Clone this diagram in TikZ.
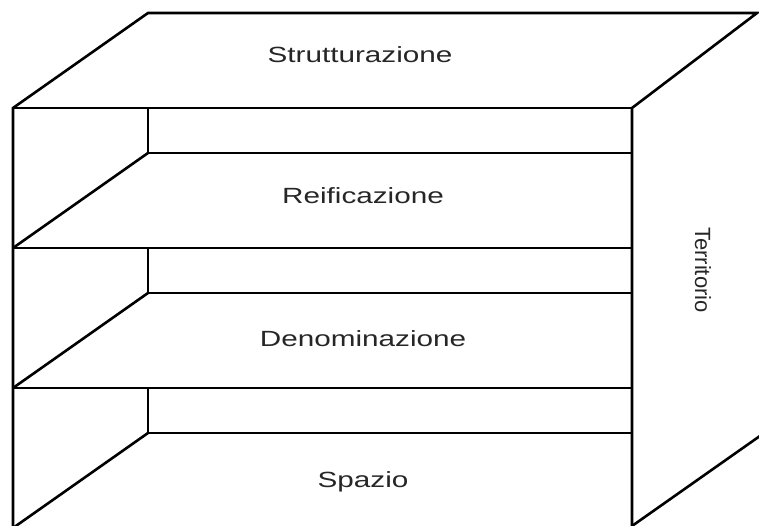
\documentclass[tikz,border=0pt]{standalone}
\usepackage{fontspec}
\setmainfont{Liberation Sans}
\usetikzlibrary{calc}

\begin{document}
\begin{tikzpicture}[x=1pt, y=1pt, line width=2.6pt,
  shelflabel/.style={font=\fontsize{22}{26}\selectfont, text=black!85, xscale=1.35, anchor=base, inner sep=0pt}]
\useasboundingbox (0,0) rectangle (759,526);
\clip (0,0) rectangle (759,526);

\coordinate (FTL) at (13,418);   % front top left
\coordinate (FTR) at (632,418);  % front top right
\coordinate (BTL) at (148,513);  % back top left
\coordinate (BTR) at (757,513);  % back top right
\coordinate (FBL) at (13,0);
\coordinate (FBR) at (632,0);

% outer box
\draw (FBL) -- (FTL) -- (BTL) -- (BTR) -- (FTR) -- (FBR);
\draw (FTL) -- (FTR);
\draw (FBR) -- ($(FBR)+(135,95)$);

% shelves
\foreach \y in {418,278,138} {
  \draw (148,\y) -- (148,\y-45) -- (632,\y-45);
  \draw (148,\y-45) -- (13,\y-140);
}
\draw (13,278) -- (632,278);
\draw (13,138) -- (632,138);

\node[shelflabel] (strutt) at (360,463) {Strutturazione};
\node[shelflabel] (reif) at (363,322) {Reificazione};
\node[shelflabel] (denom) at (363,179) {Denominazione};
\node[shelflabel] (spazio) at (363,38) {Spazio};
\node[font=\fontsize{22}{26}\selectfont, text=black!85, rotate=-90, anchor=base, inner sep=0pt] (terr) at (695,256) {Territorio};
\end{tikzpicture}
\end{document}
